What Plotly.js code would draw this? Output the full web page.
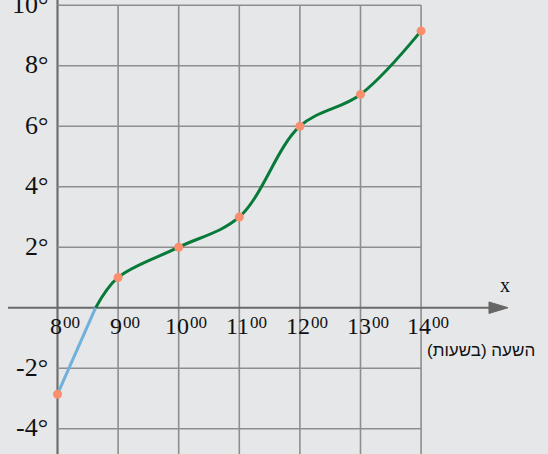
<!DOCTYPE html>
<html>
<head>
<meta charset="utf-8">
<script src="https://cdn.plot.ly/plotly-3.0.1.min.js"></script>
<style>html,body{margin:0;padding:0;background:#e6e7e9;}#chart{width:548px;height:454px;}</style>
</head>
<body>
<div id="chart"></div>
<script>
// ---- data ----
const hours = [8, 9, 10, 11, 12, 13, 14];
const temps = [-2.86, 1, 2, 3, 6, 7.05, 9.15];
const crossHour = 8.63;           // where the curve crosses 0°
const yTicks = [10, 8, 6, 4, 2, -2, -4];
const yTickLabels = ['10°', '8°', '6°', '4°', '2°', '-2°', '-4°'];
const xTickMain = ['8', '9', '10', '11', '12', '13', '14'];
const xTickSup = '00';
const xAxisLabel = 'x';
const hebrewLabel = 'השעה (בשעות)';

// ---- layout constants ----
const X0 = 7.0512, X1 = 16.094, Y0 = -4.836, Y1 = 10.172;
const serif = 'Liberation Serif, Times New Roman, serif';
const gridColor = '#8e8e8e';

const belowTrace = {
  x: [hours[0], crossHour], y: [temps[0], 0],
  mode: 'lines', line: {color: '#6fb0dc', width: 3, shape: 'spline'},
  hoverinfo: 'skip', showlegend: false
};
const aboveTrace = {
  x: [crossHour].concat(hours.slice(1)), y: [0].concat(temps.slice(1)),
  mode: 'lines', line: {color: '#077a3a', width: 3, shape: 'spline', smoothing: 1},
  hoverinfo: 'skip', showlegend: false
};
const pointTrace = {
  x: hours, y: temps, mode: 'markers',
  marker: {color: '#f98f6e', size: 9},
  hoverinfo: 'skip', showlegend: false
};

const shapes = [];
// vertical grid lines
hours.slice(1).forEach(h => shapes.push({type: 'line', xref: 'x', yref: 'y', x0: h, x1: h, y0: Y0, y1: yTicks[0], line: {color: gridColor, width: 1.6}, layer: 'below'}));
// horizontal grid lines
yTicks.forEach(v => shapes.push({type: 'line', xref: 'x', yref: 'y', x0: hours[0], x1: hours[hours.length - 1], y0: v, y1: v, line: {color: gridColor, width: 1.6}, layer: 'below'}));
// y axis
shapes.push({type: 'line', xref: 'x', yref: 'paper', x0: hours[0], x1: hours[0], y0: 0, y1: 1, line: {color: '#6e6e6e', width: 2.2}, layer: 'below'});
// x axis
shapes.push({type: 'line', xref: 'x', yref: 'y', x0: 7.183, x1: 15.2, y0: 0, y1: 0, line: {color: '#6a6a6a', width: 2}, layer: 'below'});
shapes.push({type: 'path', xref: 'x', yref: 'y', path: 'M 15.12 0.19 L 15.434 0 L 15.12 -0.19 Z', fillcolor: '#666666', line: {color: '#666666', width: 1}, layer: 'below'});

const annotations = [];
yTicks.forEach((v, i) => annotations.push({
  x: hours[0], y: v, xref: 'x', yref: 'y', text: yTickLabels[i], showarrow: false,
  xanchor: 'right', yanchor: 'middle', xshift: -8, yshift: 1,
  font: {family: serif, size: 26, color: '#111'}
}));
hours.forEach((h, i) => {
  const w = xTickMain[i].length * 12;
  annotations.push({
    x: h, y: -0.6, xref: 'x', yref: 'y', text: xTickMain[i], showarrow: false,
    xanchor: 'center', yanchor: 'middle', xshift: -2,
    font: {family: serif, size: 24, color: '#111'}
  });
  annotations.push({
    x: h, y: -0.5, xref: 'x', yref: 'y', text: xTickSup, showarrow: false,
    xanchor: 'left', yanchor: 'middle', xshift: w / 2 - 3,
    font: {family: serif, size: 17, color: '#111'}
  });
});
annotations.push({x: 15.39, y: 0.75, xref: 'x', yref: 'y', text: xAxisLabel, showarrow: false,
  xanchor: 'center', yanchor: 'middle', font: {family: serif, size: 20, color: '#111'}});
annotations.push({x: 8 + (537 - 57.5) / 60.6, y: -1.4, xref: 'x', yref: 'y', text: hebrewLabel, showarrow: false,
  xanchor: 'right', yanchor: 'middle', font: {family: 'Liberation Sans, Arial, sans-serif', size: 17, color: '#111'}});

const layout = {
  width: 548, height: 454,
  margin: {l: 0, r: 0, t: 0, b: 0, pad: 0},
  paper_bgcolor: '#e6e7e9', plot_bgcolor: '#e6e7e9',
  xaxis: {range: [X0, X1], visible: false, fixedrange: true},
  yaxis: {range: [Y0, Y1], visible: false, fixedrange: true},
  shapes: shapes, annotations: annotations, showlegend: false
};

Plotly.newPlot('chart', [belowTrace, aboveTrace, pointTrace], layout, {staticPlot: true, displayModeBar: false});
</script>
</body>
</html>
